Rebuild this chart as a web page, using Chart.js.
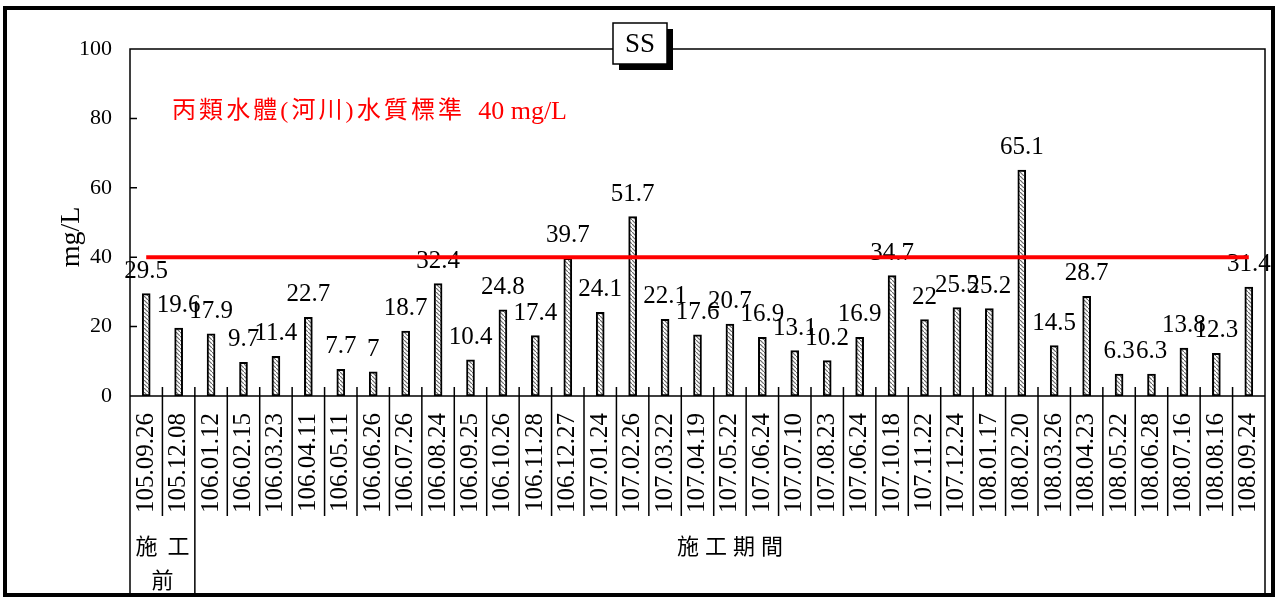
<!DOCTYPE html>
<html>
<head>
<meta charset="utf-8">
<script src="https://cdn.jsdelivr.net/npm/chart.js@4"></script>
<style>
    html, body { margin: 0; padding: 0; background: #fff; }
</style>
</head>
<body>
<canvas id="ssChart" width="1282" height="598"></canvas>
<script>
// sampling dates (ROC calendar) and SS readings, mg/L
const dates = ['105.09.26', '105.12.08', '106.01.12', '106.02.15', '106.03.23', '106.04.11', '106.05.11',
    '106.06.26', '106.07.26', '106.08.24', '106.09.25', '106.10.26', '106.11.28', '106.12.27', '107.01.24',
    '107.02.26', '107.03.22', '107.04.19', '107.05.22', '107.06.24', '107.07.10', '107.08.23', '107.06.24',
    '107.10.18', '107.11.22', '107.12.24', '108.01.17', '108.02.20', '108.03.26', '108.04.23', '108.05.22',
    '108.06.28', '108.07.16', '108.08.16', '108.09.24'];
const ssValues = [29.5, 19.6, 17.9, 9.7, 11.4, 22.7, 7.7, 7, 18.7, 32.4, 10.4, 24.8, 17.4, 39.7, 24.1,
    51.7, 22.1, 17.6, 20.7, 16.9, 13.1, 10.2, 16.9, 34.7, 22, 25.5, 25.2, 65.1, 14.5, 28.7, 6.3,
    6.3, 13.8, 12.3, 31.4];
const standardLimit = 40;
const standardName = '丙類水體(河川)水質標準';
const standardUnit = '40 mg/L';
const yTicks = [0, 20, 40, 60, 80, 100];
const periodGroups = [
    { lines: ['施工', '前'], first: 0, last: 1 },
    { lines: ['施工期間'], first: 2, last: 34 },
];

const serif = '"Liberation Serif", "Times New Roman", serif';
const cjk = '"Liberation Serif", "Noto Sans CJK TC", sans-serif';

function hatchPattern() {
    const c = document.createElement('canvas');
    c.width = 4;
    c.height = 4;
    const g = c.getContext('2d');
    g.fillStyle = '#fff';
    g.fillRect(0, 0, 4, 4);
    g.strokeStyle = '#6a6a6a';
    g.lineWidth = 1.2;
    g.beginPath();
    g.moveTo(0, 0);
    g.lineTo(4, 4);
    g.stroke();
    return g.createPattern(c, 'repeat');
}

function spacedText(ctx, text, x, y, spacing) {
    // letterSpacing leaves a trailing gap, shift half of it back when centred
    ctx.letterSpacing = spacing + 'px';
    ctx.fillText(text, x + spacing / 2, y);
    ctx.letterSpacing = '0px';
}

// frame, axis line, inner ticks and the label table
const tableLines = {
    id: 'tableLines',
    beforeDatasetsDraw(chart) {
        const ctx = chart.ctx;
        const { left, right, top, bottom } = chart.chartArea;
        const xs = chart.scales.x;
        const ys = chart.scales.y;
        const half = (xs.getPixelForValue(1) - xs.getPixelForValue(0)) / 2;
        const tableBottom = 516;
        const pageBottom = 595;

        ctx.save();
        ctx.strokeStyle = '#000';
        ctx.lineWidth = 1.5;
        ctx.beginPath();
        ctx.moveTo(left, pageBottom);
        ctx.lineTo(left, top);
        ctx.lineTo(right, top);
        ctx.lineTo(right, pageBottom);
        ctx.moveTo(left, bottom);
        ctx.lineTo(right, bottom);
        yTicks.forEach(v => {
            if (v === 0 || v === 100) return;
            const y = ys.getPixelForValue(v);
            ctx.moveTo(left, y);
            ctx.lineTo(left + 7, y);
        });
        for (let i = 1; i < dates.length; i++) {
            const bx = xs.getPixelForValue(i) - half;
            const isGroupEdge = periodGroups.some(g => g.first === i);
            ctx.moveTo(bx, bottom - 9);
            ctx.lineTo(bx, isGroupEdge ? pageBottom : tableBottom);
        }
        ctx.stroke();

        // period group captions
        ctx.fillStyle = '#000';
        ctx.font = '22px ' + cjk;
        ctx.textAlign = 'center';
        ctx.textBaseline = 'middle';
        periodGroups.forEach(g => {
            const cx = (xs.getPixelForValue(g.first) + xs.getPixelForValue(g.last)) / 2;
            if (g.lines.length > 1) {
                spacedText(ctx, g.lines[0], cx, 548, 10);
                ctx.fillText(g.lines[1], cx, 582);
            } else {
                spacedText(ctx, g.lines[0], cx, 548, 6);
            }
        });

        // standard note: CJK part spread to ~462px, then the unit in plain serif
        ctx.fillStyle = '#ff0000';
        ctx.font = '24px ' + cjk;
        ctx.textAlign = 'left';
        const w = ctx.measureText(standardName).width;
        const gap = Math.max(0, (290 - w) / (standardName.length - 1));
        ctx.letterSpacing = gap.toFixed(2) + 'px';
        ctx.fillText(standardName, 172, 112);
        ctx.letterSpacing = '0px';
        ctx.font = '26px ' + serif;
        ctx.textAlign = 'right';
        ctx.fillText(standardUnit, 567, 112);
        ctx.restore();
    },
    afterDraw(chart) {
        const ctx = chart.ctx;
        ctx.save();
        // outer border of the sheet
        ctx.strokeStyle = '#000';
        ctx.lineWidth = 4;
        ctx.strokeRect(5, 8, 1268, 587);

        // y axis caption
        ctx.fillStyle = '#000';
        ctx.font = '28px ' + serif;
        ctx.textAlign = 'center';
        ctx.textBaseline = 'middle';
        ctx.translate(72, 237);
        ctx.rotate(-Math.PI / 2);
        ctx.fillText('mg/L', 0, 0);
        ctx.setTransform(1, 0, 0, 1, 0, 0);

        // title box with shadow
        ctx.fillStyle = '#000';
        ctx.fillRect(619, 29, 54, 41);
        ctx.fillStyle = '#fff';
        ctx.fillRect(613, 23, 54, 41);
        ctx.lineWidth = 1.5;
        ctx.strokeRect(613, 23, 54, 41);
        ctx.fillStyle = '#000';
        ctx.font = '27px ' + serif;
        ctx.fillText('SS', 640, 45);
        ctx.restore();
    }
};

// value above every bar, drawn before the limit line so the line covers it
const valueLabels = {
    id: 'valueLabels',
    afterDatasetDraw(chart, args) {
        if (args.index !== 0) return;
        const ctx = chart.ctx;
        ctx.save();
        ctx.font = '25px ' + serif;
        ctx.fillStyle = '#000';
        ctx.textAlign = 'center';
        ctx.textBaseline = 'alphabetic';
        args.meta.data.forEach((bar, i) => {
            ctx.fillText(String(ssValues[i]), bar.x, bar.y - 16);
        });
        ctx.restore();
    }
};

const ssCtx = document.getElementById('ssChart');
new Chart(ssCtx, {
    type: 'bar',
    data: {
        labels: dates,
        datasets: [
            {
                label: 'SS',
                data: ssValues,
                backgroundColor: hatchPattern(),
                borderColor: '#000',
                borderWidth: 2,
                borderSkipped: false,
                barThickness: 8,
                order: 1,
            },
            {
                type: 'line',
                label: 'standard',
                data: dates.map(() => standardLimit),
                borderColor: '#ff0000',
                borderWidth: 4,
                pointRadius: 0,
                fill: false,
                order: 0,
            },
        ]
    },
    options: {
        responsive: false,
        animation: false,
        layout: { padding: { top: 49, right: 17, left: 0, bottom: 0 } },
        plugins: {
            legend: { display: false },
            tooltip: { enabled: false },
        },
        scales: {
            x: {
                grid: { display: false },
                border: { display: false },
                ticks: {
                    autoSkip: false,
                    minRotation: 90,
                    maxRotation: 90,
                    padding: 9,
                    color: '#000',
                    font: { family: serif, size: 25 },
                },
                afterFit: s => {
                    s.height = 202;
                    s.paddingLeft = 0;
                    s.paddingRight = 0;
                },
            },
            y: {
                min: 0,
                max: 100,
                grid: { display: false },
                border: { display: false },
                ticks: {
                    stepSize: 20,
                    padding: 10,
                    color: '#000',
                    font: { family: serif, size: 22 },
                },
                afterFit: s => { s.width = 130; },
            }
        }
    },
    plugins: [tableLines, valueLabels]
});
</script>
</body>
</html>
